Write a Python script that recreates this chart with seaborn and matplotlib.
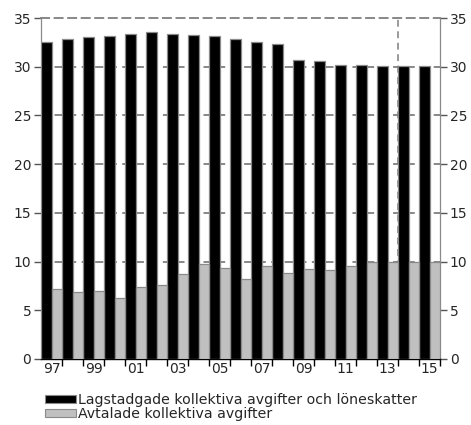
import matplotlib
matplotlib.use("Agg")
import matplotlib.pyplot as plt
from matplotlib.patches import Patch
import pandas as pd
import seaborn as sns

years = ["97", "98", "99", "00", "01", "02", "03", "04", "05", "06",
         "07", "08", "09", "10", "11", "12", "13", "14", "15"]
lagstadgade = [32.5, 32.8, 33.0, 33.2, 33.4, 33.6, 33.4, 33.3, 33.2, 32.8,
               32.5, 32.3, 30.7, 30.6, 30.2, 30.2, 30.1, 30.1, 30.1]
avtalade = [7.2, 6.9, 7.0, 6.3, 7.4, 7.6, 8.7, 9.7, 9.3, 8.2,
            9.5, 8.8, 9.2, 9.1, 9.5, 10.0, 10.0, 10.0, 10.0]
series_names = ["Lagstadgade kollektiva avgifter och löneskatter",
                "Avtalade kollektiva avgifter"]
yticks = [0, 5, 10, 15, 20, 25, 30, 35]
forecast_start = "14"

sns.set_style("white")
plt.rcParams["font.family"] = ["DejaVu Sans"]

df = pd.DataFrame({
    "year": years * 2,
    "value": lagstadgade + avtalade,
    "series": [series_names[0]] * len(years) + [series_names[1]] * len(years),
})

fig = plt.figure(figsize=(4.71, 4.25), dpi=100)
ax = fig.add_axes([41 / 471, 1 - 359 / 425, 399 / 471, 341 / 425])

palette = {series_names[0]: "#000000", series_names[1]: "#c0c0c0"}
sns.barplot(data=df, x="year", y="value", hue="series", order=years,
            hue_order=series_names, palette=palette, width=1.0, gap=0,
            edgecolor="#8a8a8a", linewidth=0.9, saturation=1,
            legend=False, ax=ax, zorder=3)

grid_c = "#7f7f7f"
ax.set_ylim(0, 35)
ax.set_xlim(-0.5, len(years) - 0.5)
for y in yticks[1:-1]:
    ax.axhline(y, color=grid_c, lw=1.3, ls=(0, (4.5, 3)), zorder=1)

# dashed divider marking the start of the forecast period
fx = years.index(forecast_start) - 0.5
ax.axvline(fx, color=grid_c, lw=1.1, ls=(0, (4.5, 3)), zorder=1)

# spines
ax.spines["top"].set_linestyle((0, (4.5, 3)))
ax.spines["top"].set_color(grid_c)
ax.spines["top"].set_linewidth(1.3)
ax.spines["left"].set_color("#8a8a8a")
ax.spines["right"].set_color("#8a8a8a")
ax.spines["left"].set_linewidth(0.9)
ax.spines["right"].set_linewidth(0.9)
ax.spines["bottom"].set_color("#000000")
ax.spines["bottom"].set_linewidth(1.0)

# y ticks on both sides
ax.set_yticks(yticks)
ax.set_yticklabels([str(t) for t in yticks])
ax.tick_params(axis="y", left=True, right=True, labelleft=True, labelright=True,
               direction="out", length=5, width=1, color="#555555",
               labelsize=10, pad=2)

# x: ticks at slot boundaries, labels at centres for every other year
ax.set_xticks([i - 0.5 for i in range(1, len(years) + 1)])
ax.set_xticklabels([])
ax.tick_params(axis="x", which="major", bottom=True, direction="out",
               length=5, width=1, color="#000000")
ax.set_xticks(range(len(years)), minor=True)
ax.set_xticklabels([y if i % 2 == 0 else "" for i, y in enumerate(years)],
                   minor=True)
ax.tick_params(axis="x", which="minor", length=0, labelsize=10, pad=2)
ax.set_xlabel("")
ax.set_ylabel("")

handles = [Patch(facecolor="#000000", edgecolor="#8a8a8a", lw=0.8),
           Patch(facecolor="#c0c0c0", edgecolor="#8a8a8a", lw=0.8)]
fig.legend(handles, series_names, loc="upper left",
           bbox_to_anchor=(45 / 471, 1 - 393 / 425), frameon=False,
           fontsize=10.2, handlelength=2.2, handleheight=0.5,
           handletextpad=0.15, labelspacing=0.0, borderpad=0,
           borderaxespad=0)

fig.savefig("out.png", dpi=100)
